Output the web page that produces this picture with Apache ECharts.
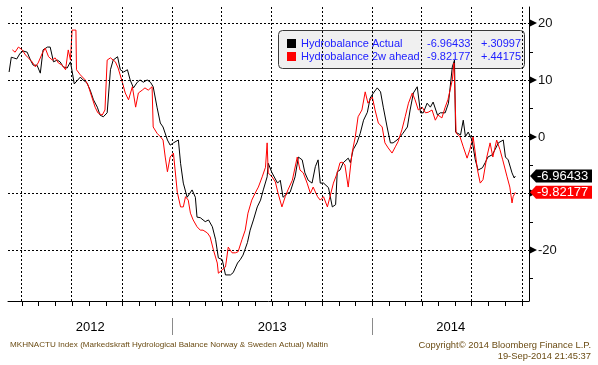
<!DOCTYPE html>
<html><head><meta charset="utf-8">
<script src="https://cdn.jsdelivr.net/npm/echarts@6/dist/echarts.min.js"></script>
<style>html,body{margin:0;padding:0;background:#fff}#c{width:598px;height:365px}</style>
</head><body><div id="c"></div>
<script>
// ---------- DATA ----------
const seriesNames = ['Hydrobalance Actual', 'Hydrobalance 2w ahead'];
const lastValues = [-6.96433, -9.82177];
const changes = ['+.30997', '+.44175'];

const actualDates = ['2012-03-09','2012-03-11','2012-03-13','2012-03-17','2012-03-23','2012-03-29','2012-04-04','2012-04-11','2012-04-17','2012-04-22','2012-04-29','2012-05-05','2012-05-10','2012-05-18','2012-05-23','2012-05-29','2012-06-05','2012-06-10','2012-06-16','2012-06-23','2012-06-29','2012-07-06','2012-07-17','2012-07-22','2012-07-29','2012-08-04','2012-08-10','2012-08-17','2012-08-22','2012-08-28','2012-09-04','2012-09-10','2012-09-15','2012-09-23','2012-09-28','2012-10-04','2012-10-11','2012-10-16','2012-10-22','2012-10-29','2012-11-03','2012-11-09','2012-11-16','2012-11-22','2012-11-27','2012-12-04','2012-12-10','2012-12-15','2012-12-23','2012-12-28','2013-01-03','2013-01-12','2013-01-16','2013-01-21','2013-01-28','2013-02-06','2013-02-12','2013-02-15','2013-02-21','2013-03-02','2013-03-08','2013-03-15','2013-03-21','2013-03-26','2013-04-02','2013-04-08','2013-04-17','2013-04-22','2013-04-30','2013-05-05','2013-05-10','2013-05-18','2013-05-23','2013-05-29','2013-06-05','2013-06-11','2013-06-16','2013-06-23','2013-06-25','2013-07-02','2013-07-12','2013-07-17','2013-07-22','2013-07-30','2013-08-04','2013-08-13','2013-08-19','2013-08-26','2013-08-31','2013-09-06','2013-09-13','2013-09-19','2013-09-24','2013-09-28','2013-10-04','2013-10-13','2013-10-20','2013-10-26','2013-10-29','2013-11-03','2013-11-09','2013-11-18','2013-11-22','2013-11-27','2013-12-04','2013-12-10','2013-12-16','2013-12-23','2013-12-28','2014-01-03','2014-01-10','2014-01-16','2014-01-21','2014-01-28','2014-02-03','2014-02-08','2014-02-15','2014-02-21','2014-02-26','2014-03-06','2014-03-11','2014-03-17','2014-03-24','2014-03-30','2014-04-04','2014-04-11','2014-04-17','2014-04-22','2014-04-30','2014-05-05','2014-05-14','2014-05-20','2014-05-27','2014-05-31','2014-06-02','2014-06-11','2014-06-16','2014-06-20','2014-06-25','2014-07-02','2014-07-08','2014-07-13','2014-07-21','2014-07-26','2014-07-31','2014-08-08','2014-08-13','2014-08-19','2014-08-28','2014-09-01','2014-09-06','2014-09-13','2014-09-17','2014-09-19'];
const actualValues = [11.4,11.4,14.0,13.9,13.7,14.7,15.1,14.9,13.5,12.6,12.6,11.2,15.3,15.8,15.8,13.2,13.5,13.2,12.3,12.1,13.2,9.3,10.5,10.0,9.5,8.2,6.5,5.2,3.8,3.5,4.2,11.8,13.5,14.1,11.8,11.4,11.8,10.0,8.6,9.6,10.0,9.6,10.0,9.6,8.8,5.2,2.4,1.7,-0.6,-1.5,-1.1,-0.6,-4.7,-8.2,-10.7,-9.4,-10.7,-14.2,-14.3,-15.0,-14.7,-15.9,-18.2,-21.4,-21.7,-24.4,-24.4,-24.0,-22.3,-21.7,-20.9,-18.7,-16.5,-14.7,-12.4,-11.2,-9.4,-7.1,-4.7,-6.4,-8.2,-7.7,-10.7,-10.0,-9.8,-7.1,-3.6,-4.1,-6.4,-7.7,-8.2,-5.3,-4.1,-8.2,-8.2,-9.0,-12.4,-12.0,-6.2,-5.9,-4.6,-3.8,-4.6,-2.3,-1.1,0.6,2.9,4.3,6.8,7.7,8.6,7.9,5.2,1.7,-1.1,-1.1,-0.6,0.0,0.6,1.7,4.7,7.7,8.8,4.2,4.2,5.9,5.2,6.1,3.8,4.2,4.2,5.9,12.3,13.5,0.8,0.3,2.9,0.0,0.8,-0.6,-4.1,-5.9,-5.5,-4.6,-3.6,-3.2,-2.3,-1.1,-0.6,-3.6,-4.1,-6.4,-7.3,-6.96433];

const aheadDates = ['2012-03-15','2012-03-20','2012-03-26','2012-04-02','2012-04-08','2012-04-13','2012-04-20','2012-04-26','2012-05-01','2012-05-09','2012-05-14','2012-05-20','2012-05-27','2012-06-01','2012-06-07','2012-06-14','2012-06-20','2012-06-25','2012-06-29','2012-07-01','2012-07-02','2012-07-09','2012-07-10','2012-07-17','2012-07-26','2012-07-31','2012-08-07','2012-08-13','2012-08-18','2012-08-26','2012-08-31','2012-09-04','2012-09-10','2012-09-19','2012-09-24','2012-10-02','2012-10-07','2012-10-13','2012-10-20','2012-10-26','2012-10-31','2012-11-07','2012-11-12','2012-11-18','2012-11-25','2012-11-27','2012-12-04','2012-12-10','2012-12-15','2012-12-19','2012-12-23','2012-12-28','2013-01-03','2013-01-10','2013-01-16','2013-01-21','2013-01-25','2013-01-30','2013-02-03','2013-02-08','2013-02-15','2013-02-21','2013-02-26','2013-03-06','2013-03-11','2013-03-17','2013-03-24','2013-03-26','2013-04-02','2013-04-08','2013-04-13','2013-04-20','2013-04-26','2013-05-01','2013-05-08','2013-05-14','2013-05-19','2013-05-26','2013-06-01','2013-06-07','2013-06-14','2013-06-20','2013-06-23','2013-06-25','2013-07-02','2013-07-08','2013-07-13','2013-07-20','2013-07-26','2013-07-31','2013-08-08','2013-08-17','2013-08-22','2013-08-28','2013-09-04','2013-09-10','2013-09-15','2013-09-23','2013-09-28','2013-10-04','2013-10-11','2013-10-16','2013-10-22','2013-10-29','2013-11-03','2013-11-07','2013-11-12','2013-11-18','2013-11-25','2013-12-01','2013-12-06','2013-12-13','2013-12-19','2013-12-24','2014-01-01','2014-01-06','2014-01-12','2014-01-19','2014-01-24','2014-01-30','2014-02-06','2014-02-12','2014-02-17','2014-02-24','2014-03-02','2014-03-08','2014-03-15','2014-03-20','2014-03-26','2014-04-02','2014-04-08','2014-04-13','2014-04-20','2014-04-26','2014-05-01','2014-05-08','2014-05-14','2014-05-19','2014-05-27','2014-05-30','2014-06-03','2014-06-10','2014-06-16','2014-06-23','2014-06-28','2014-07-04','2014-07-12','2014-07-17','2014-07-22','2014-07-29','2014-08-04','2014-08-09','2014-08-16','2014-08-22','2014-08-27','2014-09-04','2014-09-09','2014-09-13','2014-09-15','2014-09-19'];
const aheadValues = [15.3,14.9,15.8,15.3,14.4,13.9,13.2,12.3,13.0,14.8,15.6,14.1,13.5,13.9,13.0,12.6,11.8,15.3,13.5,13.5,18.8,18.8,11.8,10.9,10.0,9.1,7.0,5.2,4.2,3.8,4.7,13.5,13.9,13.2,12.1,9.5,7.7,6.5,8.8,5.2,7.7,8.2,8.6,8.2,8.8,1.7,0.6,0.0,-0.6,-3.6,-6.2,-3.6,-2.9,-9.8,-12.4,-12.4,-10.6,-11.2,-13.5,-14.7,-15.9,-16.5,-16.5,-17.0,-17.7,-20.0,-22.3,-24.1,-23.5,-23.0,-19.5,-20.5,-20.5,-20.3,-18.2,-16.5,-13.5,-11.2,-10.0,-8.9,-7.1,-5.4,-1.1,-6.4,-7.1,-8.0,-10.0,-12.4,-10.6,-9.4,-7.7,-3.6,-5.9,-6.4,-8.2,-10.0,-8.9,-10.6,-11.2,-10.6,-12.4,-10.5,-8.2,-6.4,-4.6,-4.5,-5.0,-8.9,-2.9,0.0,3.5,4.7,7.9,5.9,7.0,4.7,2.4,1.7,-1.1,-2.0,-2.9,-1.8,-0.9,1.2,3.5,5.9,7.7,6.5,4.7,5.2,4.2,4.3,4.7,2.9,3.8,3.3,5.2,6.5,10.0,13.0,0.6,0.0,-1.8,-3.8,-2.3,0.0,-5.9,-8.2,-7.6,-3.6,-1.1,-3.6,-0.6,-2.3,-4.1,-7.1,-8.9,-11.7,-10.6,-9.82177];

const yTickValues = [-20, -10, 0, 10, 20];
const yTickLabels = ['-20', '-10', '0', '10', '20'];
const yMinorTicks = [-25, -15, -5, 5, 15];
const quarterLines = ['2012-04-01','2012-07-01','2012-10-01','2013-01-01','2013-04-01','2013-07-01','2013-10-01','2014-01-01','2014-04-01','2014-07-01','2014-10-01'];
const monthTicks = ['2012-04-01','2012-05-01','2012-06-01','2012-07-01','2012-08-01','2012-09-01','2012-10-01','2012-11-01','2012-12-01','2013-01-01','2013-02-01','2013-03-01','2013-04-01','2013-05-01','2013-06-01','2013-07-01','2013-08-01','2013-09-01','2013-10-01','2013-11-01','2013-12-01','2014-01-01','2014-02-01','2014-03-01','2014-04-01','2014-05-01','2014-06-01','2014-07-01','2014-08-01','2014-09-01','2014-10-01'];
const yearLabels = ['2012', '2013', '2014'];
const yearStarts = ['2012-01-01', '2013-01-01', '2014-01-01'];
const yearEnds = ['2013-01-01', '2014-01-01', '2015-01-01'];
const yearBreaks = ['2013-01-01', '2014-01-01'];
const xMin = '2012-03-07', xMax = '2014-10-14';
const yMin = -29, yMax = 22.87;

// ---------- CHART ----------
const ts = s => +new Date(s + 'T00:00:00');
const xMinT = ts(xMin), xMaxT = ts(xMax);
const FONT = '"Liberation Sans", Arial, sans-serif';
const chart = echarts.init(document.getElementById('c'), null, {renderer: 'canvas', width: 598, height: 365});

const gridLine = {color: '#000', type: [2, 2], width: 1};
const footCol = '#6b4c14';

const option = {
  animation: false,
  grid: {left: 8, right: 69, top: 7, bottom: 64},
  xAxis: {
    type: 'time', min: xMinT, max: xMaxT,
    axisLine: {show: true, onZero: false, lineStyle: {color: '#000', width: 1}},
    axisTick: {show: false}, axisLabel: {show: false}, splitLine: {show: false}
  },
  yAxis: {
    type: 'value', position: 'right', min: yMin, max: yMax,
    axisLine: {show: true, onZero: false, lineStyle: {color: '#000', width: 1}},
    axisTick: {show: false}, axisLabel: {show: false}, splitLine: {show: false}
  },
  graphic: [
    {type: 'rect', z: 0, shape: {x: 278.5, y: 30.5, width: 246, height: 38, r: 4},
      style: {fill: '#f0f0f0', stroke: '#3a3a3a', lineWidth: 1}},
    {type: 'rect', z: 1, shape: {x: 287, y: 39, width: 9, height: 9}, style: {fill: '#000'}},
    {type: 'rect', z: 1, shape: {x: 287, y: 52, width: 9, height: 9}, style: {fill: '#ff0000'}},
    {type: 'text', z: 1, x: 301, y: 44, style: {text: seriesNames[0], fill: '#2020ff', font: '11px ' + FONT, verticalAlign: 'middle'}},
    {type: 'text', z: 1, x: 301, y: 57, style: {text: seriesNames[1], fill: '#2020ff', font: '11px ' + FONT, verticalAlign: 'middle'}},
    {type: 'text', z: 1, x: 427, y: 44, style: {text: String(lastValues[0]), fill: '#2020ff', font: '11px ' + FONT, verticalAlign: 'middle'}},
    {type: 'text', z: 1, x: 427, y: 57, style: {text: String(lastValues[1]), fill: '#2020ff', font: '11px ' + FONT, verticalAlign: 'middle'}},
    {type: 'text', z: 1, x: 481, y: 44, style: {text: changes[0], fill: '#2020ff', font: '11px ' + FONT, verticalAlign: 'middle'}},
    {type: 'text', z: 1, x: 481, y: 57, style: {text: changes[1], fill: '#2020ff', font: '11px ' + FONT, verticalAlign: 'middle'}},
    {type: 'text', z: 1, x: 10, y: 345, style: {text: 'MKHNACTU Index (Markedskraft Hydrological Balance Norway & Sweden Actual) Maltin', fill: footCol, font: '8.1px ' + FONT, verticalAlign: 'middle'}},
    {type: 'text', z: 1, x: 591, y: 345, style: {text: 'Copyright\u00a9 2014 Bloomberg Finance L.P.', fill: footCol, font: '9.4px ' + FONT, align: 'right', verticalAlign: 'middle'}},
    {type: 'text', z: 1, x: 591, y: 356, style: {text: '19-Sep-2014 21:45:37', fill: footCol, font: '9.4px ' + FONT, align: 'right', verticalAlign: 'middle'}}
  ],
  series: [
    {
      name: seriesNames[0], type: 'line', z: 3,
      data: actualDates.map((d, i) => [ts(d), actualValues[i]]),
      showSymbol: false, symbol: 'none', silent: true,
      lineStyle: {color: '#000', width: 1}, itemStyle: {color: '#000'},
      markLine: {
        silent: true, symbol: ['none', 'none'], label: {show: false}, lineStyle: gridLine, animation: false,
        emphasis: {disabled: true},
        data: quarterLines.map(d => ({xAxis: ts(d)})).concat(yTickValues.map(v => ({yAxis: v})))
      }
    },
    {
      name: seriesNames[1], type: 'line', z: 4,
      data: aheadDates.map((d, i) => [ts(d), aheadValues[i]]),
      showSymbol: false, symbol: 'none', silent: true,
      lineStyle: {color: '#ff0000', width: 1}, itemStyle: {color: '#ff0000'}
    },
    { // monthly ticks on x axis
      type: 'custom', coordinateSystem: 'cartesian2d', clip: false, silent: true, z: 5,
      data: monthTicks.map(d => [ts(d), yMin]),
      renderItem: (p, api) => {
        const c = api.coord([api.value(0), yMin]);
        const x = Math.round(c[0]) + 0.5;
        return {type: 'line', shape: {x1: x, y1: c[1], x2: x, y2: c[1] + 5}, style: {stroke: '#000', lineWidth: 1}};
      }
    },
    { // year separators
      type: 'custom', coordinateSystem: 'cartesian2d', clip: false, silent: true, z: 5,
      data: yearBreaks.map(d => [ts(d), yMin]),
      renderItem: (p, api) => {
        const c = api.coord([api.value(0), yMin]);
        const x = Math.round(c[0]) + 0.5;
        return {type: 'line', shape: {x1: x, y1: c[1] + 17, x2: x, y2: c[1] + 34}, style: {stroke: '#8a8a8a', lineWidth: 1}};
      }
    },
    { // year labels
      type: 'custom', coordinateSystem: 'cartesian2d', clip: false, silent: true, z: 5,
      data: yearStarts.map((d, i) => [ts(d), yMin, ts(yearEnds[i])]),
      renderItem: (p, api) => {
        const a = api.coord([Math.max(api.value(0), xMinT), yMin]);
        const b = api.coord([Math.min(api.value(2), xMaxT), yMin]);
        return {type: 'text', x: (a[0] + b[0]) / 2, y: a[1] + 26,
          style: {text: yearLabels[p.dataIndex], fill: '#000', font: '13px ' + FONT, align: 'center', verticalAlign: 'middle'}};
      }
    },
    { // y axis major labels with arrows
      type: 'custom', coordinateSystem: 'cartesian2d', clip: false, silent: true, z: 6,
      data: yTickValues.map(v => [xMaxT, v]),
      renderItem: (p, api) => {
        const c = api.coord([xMaxT, api.value(1)]);
        const x = c[0], y = Math.round(c[1]);
        return {type: 'group', children: [
          {type: 'polygon', shape: {points: [[x + 1, y - 3.5], [x + 8, y], [x + 1, y + 3.5]]}, style: {fill: '#000'}},
          {type: 'text', x: x + 9, y: y, style: {text: yTickLabels[p.dataIndex], fill: '#111', font: '13px ' + FONT, verticalAlign: 'middle'}}
        ]};
      }
    },
    { // y axis minor ticks
      type: 'custom', coordinateSystem: 'cartesian2d', clip: false, silent: true, z: 6,
      data: yMinorTicks.map(v => [xMaxT, v]),
      renderItem: (p, api) => {
        const c = api.coord([xMaxT, api.value(1)]);
        const y = Math.round(c[1]) + 0.5;
        return {type: 'line', shape: {x1: c[0], y1: y, x2: c[0] + 4, y2: y}, style: {stroke: '#000', lineWidth: 1}};
      }
    },
    { // last value boxes
      type: 'custom', coordinateSystem: 'cartesian2d', clip: false, silent: true, z: 10,
      data: lastValues.map(v => [xMaxT, v]),
      renderItem: (p, api) => {
        const c = api.coord([xMaxT, api.value(1)]);
        const x = c[0] + 1, y = c[1], h = 6.5;
        const col = p.dataIndex === 0 ? '#000' : '#ff0000';
        return {type: 'group', children: [
          {type: 'polygon', shape: {points: [[x, y], [x + 6, y - h], [x + 62, y - h], [x + 62, y + h], [x + 6, y + h]]}, style: {fill: col}},
          {type: 'text', x: x + 7, y: y, style: {text: String(lastValues[p.dataIndex]), fill: '#fff', font: '13px ' + FONT, verticalAlign: 'middle'}}
        ]};
      }
    }
  ]
};
chart.setOption(option);
</script>
</body></html>
